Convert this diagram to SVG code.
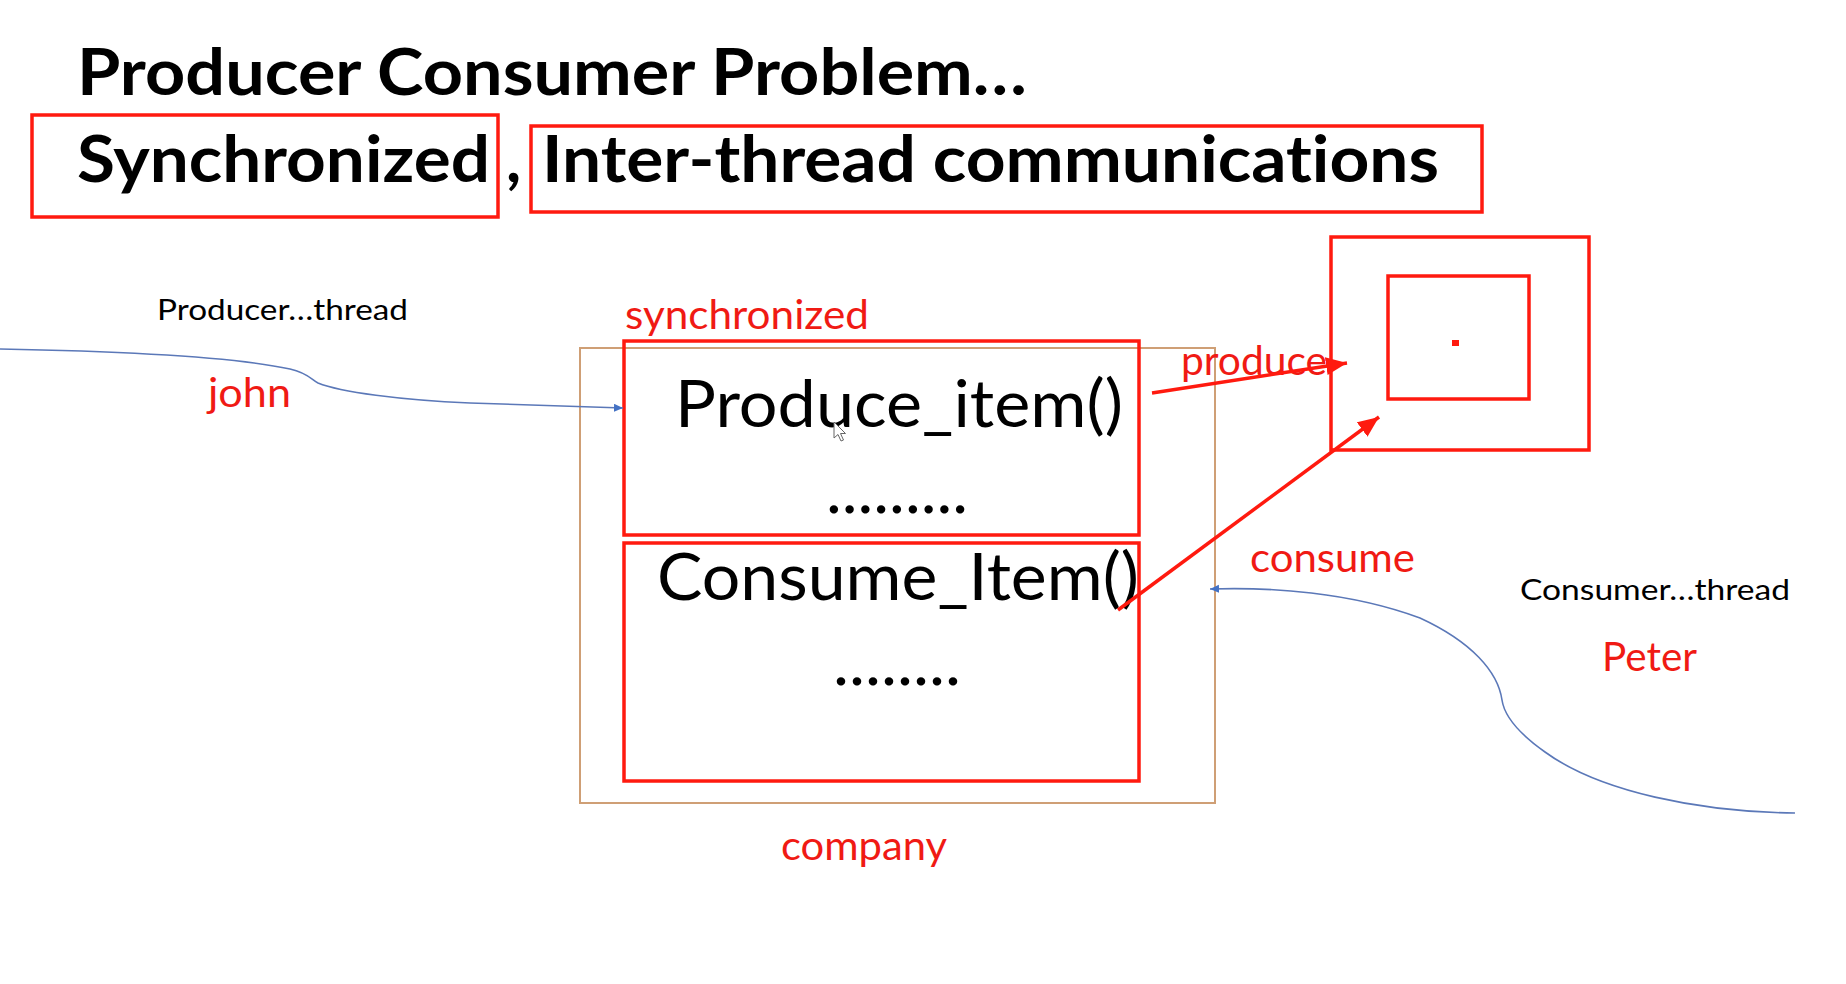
<svg xmlns="http://www.w3.org/2000/svg" width="1846" height="984" viewBox="0 0 1846 984">
  <style>
    text { font-variant-ligatures: none; font-feature-settings: "liga" 0, "dlig" 0; }
    .head { font-family: Lato, "Liberation Sans", sans-serif; font-weight: 700; font-size: 65px; fill: #000; }
    .code { font-family: Lato, "Liberation Sans", sans-serif; font-weight: 400; font-size: 66px; fill: #000; }
    .note { font-family: Lato, "Liberation Sans", sans-serif; font-weight: 400; font-size: 28px; fill: #000; }
    .lbl  { font-family: Lato, "Liberation Sans", sans-serif; font-weight: 400; font-size: 40px; fill: #f01a14; }
    .redbox { fill: none; stroke: #ff1a0f; stroke-width: 3.5; }
    .tanbox { fill: none; stroke: #cf9f75; stroke-width: 2; }
    .thread { fill: none; stroke: #5b78b8; stroke-width: 1.6; }
    .call { fill: none; stroke: #ff1a0f; stroke-width: 3.5; }
  </style>
  <defs>
    <marker id="blueHead" markerUnits="userSpaceOnUse" markerWidth="10" markerHeight="10" refX="9" refY="4" orient="auto">
      <path d="M0,0 L9,4 L0,8 z" fill="#4472c4"/>
    </marker>
    <marker id="redHead" markerUnits="userSpaceOnUse" markerWidth="22" markerHeight="20" refX="21" refY="9" orient="auto">
      <path d="M0,0 L21,9 L0,18 z" fill="#ff1a0f"/>
    </marker>
  </defs>

  <rect width="1846" height="984" fill="#fff"/>

  <!-- heading lines -->
  <g id="title">
    <text class="head" x="77" y="95" textLength="950" lengthAdjust="spacingAndGlyphs">Producer Consumer Problem…</text>
  </g>
  <g id="topic-synchronized">
    <rect class="redbox" x="32" y="115" width="466" height="102"/>
    <text class="head" x="77" y="182" textLength="413" lengthAdjust="spacingAndGlyphs">Synchronized</text>
  </g>
  <g id="comma">
    <text class="head" x="506" y="182">,</text>
  </g>
  <g id="topic-interthread">
    <rect class="redbox" x="531" y="126" width="951" height="86"/>
    <text class="head" x="542" y="182" textLength="897" lengthAdjust="spacingAndGlyphs">Inter-thread communications</text>
  </g>

  <!-- producer thread -->
  <g id="producer-thread">
    <text class="note" x="157" y="320" textLength="251" lengthAdjust="spacingAndGlyphs">Producer…thread</text>
    <text class="lbl" x="208" y="407" textLength="83" lengthAdjust="spacingAndGlyphs">john</text>
  </g>

  <!-- shared object -->
  <g id="company">
    <rect class="tanbox" x="580" y="348" width="635" height="455"/>
    <text class="lbl" x="781" y="860" textLength="166" lengthAdjust="spacingAndGlyphs">company</text>
  </g>

  <g id="produce-method">
    <text class="lbl" x="625" y="329" textLength="244" lengthAdjust="spacingAndGlyphs">synchronized</text>
    <rect class="redbox" x="624" y="341" width="515" height="194"/>
    <text class="code" x="675" y="427" textLength="448" lengthAdjust="spacingAndGlyphs">Produce_item()</text>
    <text class="code" x="826" y="513" textLength="142" lengthAdjust="spacingAndGlyphs">.........</text>
  </g>

  <g id="consume-method">
    <rect class="redbox" x="624" y="543" width="515" height="238"/>
    <text class="code" x="657" y="600" textLength="482" lengthAdjust="spacingAndGlyphs">Consume_Item()</text>
    <text class="code" x="833" y="685" textLength="128" lengthAdjust="spacingAndGlyphs">........</text>
  </g>

  <!-- mouse pointer -->
  <g id="pointer">
    <path d="M834,422 L834,438 L838,434.5 L841,441 L843.5,440 L840.5,433.5 L845.5,433.5 Z" fill="#fff" stroke="#666" stroke-width="1"/>
  </g>

  <!-- buffer -->
  <g id="buffer">
    <rect class="redbox" x="1331" y="237" width="258" height="213"/>
    <rect class="redbox" x="1388" y="276" width="141" height="123"/>
    <rect x="1452" y="340" width="7" height="6" fill="#ff1a0f"/>
  </g>

  <!-- consumer thread -->
  <g id="consumer-thread">
    <text class="note" x="1520" y="600" textLength="270" lengthAdjust="spacingAndGlyphs">Consumer…thread</text>
    <text class="lbl" x="1602" y="671" textLength="95" lengthAdjust="spacingAndGlyphs">Peter</text>
  </g>

  <g id="call-labels">
    <text class="lbl" x="1181" y="375" textLength="146" lengthAdjust="spacingAndGlyphs">produce</text>
    <text class="lbl" x="1250" y="572" textLength="165" lengthAdjust="spacingAndGlyphs">consume</text>
  </g>

  <!-- connectors -->
  <g id="connectors">
    <path class="thread" d="M0,349 C110,351 230,356 290,369 C308,373 312,380 318,383 C340,392 400,400 470,403 C530,405 580,407 623,408" marker-end="url(#blueHead)"/>
    <path class="thread" d="M1795,813 C1700,812 1600,792 1545,752 C1514,730 1504,714 1502,700 C1498,672 1472,642 1420,618 C1350,592 1270,587 1210,589" marker-end="url(#blueHead)"/>
    <line class="call" x1="1152" y1="393" x2="1347" y2="363" marker-end="url(#redHead)"/>
    <line class="call" x1="1118" y1="610" x2="1379" y2="417" marker-end="url(#redHead)"/>
  </g>
</svg>
